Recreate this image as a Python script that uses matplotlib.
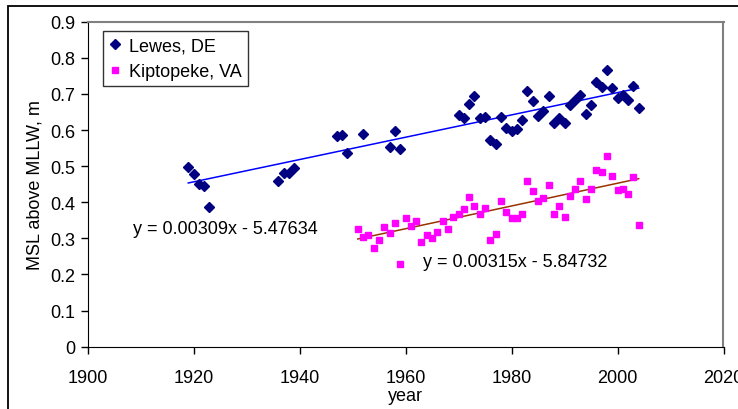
import matplotlib.pyplot as plt
import numpy as np
from matplotlib.patches import Rectangle

plt.rcParams['font.family'] = ['Liberation Sans', 'DejaVu Sans']

# Lewes, DE (year, MSL above MLLW in m)
lewes_year = [1919, 1920, 1921, 1922, 1923, 1936, 1937, 1938, 1939,
              1947, 1948, 1949, 1952, 1957, 1958, 1959,
              1970, 1971, 1972, 1973, 1974, 1975, 1976, 1977, 1978, 1979,
              1980, 1981, 1982, 1983, 1984, 1985, 1986, 1987, 1988, 1989,
              1990, 1991, 1992, 1993, 1994, 1995, 1996, 1997, 1998, 1999,
              2000, 2001, 2002, 2003, 2004]
lewes_msl = [0.498, 0.478, 0.450, 0.446, 0.387, 0.460, 0.481, 0.482, 0.494,
             0.583, 0.587, 0.536, 0.590, 0.554, 0.597, 0.547,
             0.642, 0.633, 0.673, 0.695, 0.634, 0.637, 0.572, 0.560, 0.637, 0.605,
             0.597, 0.602, 0.627, 0.707, 0.681, 0.640, 0.652, 0.695, 0.619, 0.634,
             0.619, 0.670, 0.684, 0.696, 0.644, 0.670, 0.732, 0.720, 0.765, 0.717,
             0.690, 0.696, 0.682, 0.722, 0.661]

# Kiptopeke, VA
kip_year = list(range(1951, 2005))
kip_msl = [0.325, 0.304, 0.308, 0.273, 0.296, 0.332, 0.314, 0.343, 0.230,
           0.357, 0.335, 0.348, 0.291, 0.308, 0.302, 0.317, 0.347, 0.325, 0.360,
           0.367, 0.382, 0.415, 0.391, 0.368, 0.383, 0.295, 0.313, 0.404, 0.373,
           0.356, 0.356, 0.368, 0.459, 0.430, 0.403, 0.412, 0.448, 0.368, 0.390,
           0.360, 0.418, 0.437, 0.458, 0.408, 0.437, 0.490, 0.483, 0.527, 0.472,
           0.433, 0.437, 0.422, 0.470, 0.338]

# linear trendlines as labelled on the chart
lewes_slope, lewes_icpt = 0.00309, -5.47634
kip_slope, kip_icpt = 0.00315, -5.84732

fig = plt.figure(figsize=(7.38, 4.10), dpi=100)
ax = fig.add_axes([87.6 / 738, 1 - 347.7 / 410, (723.5 - 87.6) / 738, (347.7 - 22.7) / 410])

ax.plot(lewes_year, lewes_msl, 'D', color='#000080', markersize=4.6, label='Lewes, DE', zorder=3)
ax.plot(kip_year, kip_msl, 's', color='#FF00FF', markersize=4.4, label='Kiptopeke, VA', zorder=3)

lx = np.array([min(lewes_year), max(lewes_year)])
ax.plot(lx, lewes_slope * lx + lewes_icpt, color='#0000FF', linewidth=1.1, zorder=2)
kx = np.array([min(kip_year), max(kip_year)])
ax.plot(kx, kip_slope * kx + kip_icpt, color='#993300', linewidth=1.1, zorder=2)

ax.text(1908.5, 0.326, f'y = {lewes_slope:.5f}x - {abs(lewes_icpt):.5f}',
        fontsize=13, va='center', ha='left')
ax.text(1963.3, 0.235, f'y = {kip_slope:.5f}x - {abs(kip_icpt):.5f}',
        fontsize=13, va='center', ha='left')

ax.set_xlim(1900, 2020)
ax.set_ylim(0, 0.9)
ax.set_xticks(range(1900, 2021, 20))
ax.set_yticks(np.arange(0, 0.91, 0.1))
ax.set_yticklabels(['0', '0.1', '0.2', '0.3', '0.4', '0.5', '0.6', '0.7', '0.8', '0.9'])
ax.tick_params(direction='out', length=5, width=1, labelsize=13)
ax.tick_params(axis='y', pad=4)
ax.tick_params(axis='x', pad=11)
ax.spines['top'].set_color('#808080')
ax.spines['right'].set_color('#808080')
ax.spines['top'].set_linewidth(1.5)
ax.spines['right'].set_linewidth(1.5)

ax.set_xlabel('year', fontsize=13, labelpad=1)
ax.set_ylabel('MSL above MLLW, m', fontsize=13, labelpad=5)

leg = ax.legend(loc='upper left', bbox_to_anchor=(0.0242, 0.972), borderaxespad=0,
                fontsize=13, frameon=True, fancybox=False, handlelength=0.6,
                handletextpad=0.5, labelspacing=0.5, borderpad=0.35)
leg.get_frame().set_edgecolor('black')
leg.get_frame().set_linewidth(1)

# chart border
fig.patches.append(Rectangle((8 / 738, -0.1), 1.1, 1 - 6.5 / 410 + 0.1,
                             transform=fig.transFigure, fill=False,
                             edgecolor='black', linewidth=1.3))

fig.savefig('out.png', dpi=100)
